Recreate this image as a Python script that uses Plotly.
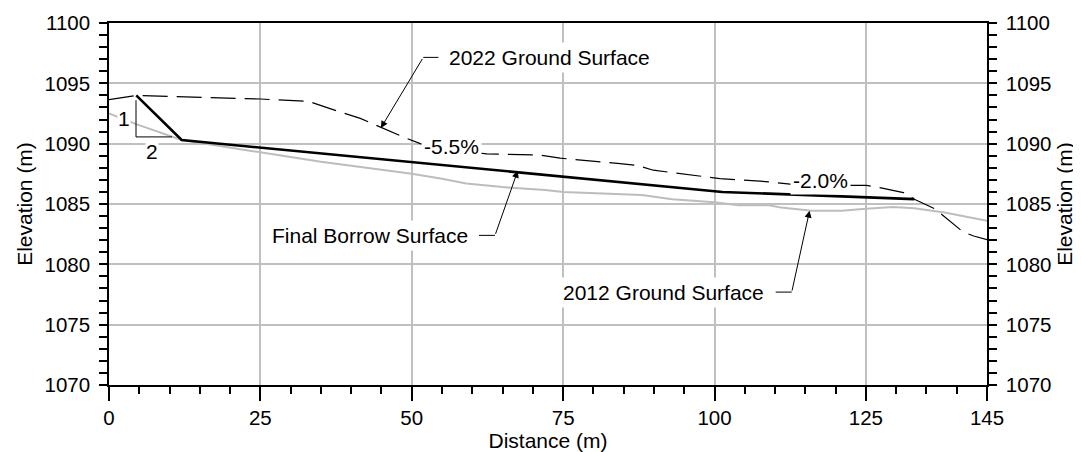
import plotly.graph_objects as go

# profile data (distance m, elevation m)
borrow_x = [4.5, 12.0, 101.3, 133.0]
borrow_y = [1094.0, 1090.3, 1086.0, 1085.4]

g2012_x = [0, 4.6, 12.0, 25, 35, 50, 55, 59, 65, 72, 75, 88, 93, 100, 104, 109,
           111, 116, 121, 125, 129.5, 133, 138, 145]
g2012_y = [1092.5, 1091.6, 1090.3, 1089.3, 1088.5, 1087.5, 1087.1, 1086.7, 1086.4,
           1086.15, 1086.0, 1085.75, 1085.4, 1085.15, 1084.9, 1084.9, 1084.7, 1084.45,
           1084.45, 1084.6, 1084.75, 1084.65, 1084.3, 1083.6]

g2022_x = [0, 4.5, 25, 33, 36.5, 41.5, 48.6, 51.4, 56, 62.4, 71.2, 74.5, 84.4, 87.2,
           89.9, 100.9, 107.5, 112.5, 122.7, 125.1, 127.3, 131.2, 133.0, 136.4, 141.0,
           142.8, 145]
g2022_y = [1093.65, 1094.0, 1093.7, 1093.5, 1092.9, 1092.1, 1090.55, 1090.0, 1089.5,
           1089.15, 1089.05, 1088.8, 1088.35, 1088.2, 1087.8, 1087.1, 1086.9, 1086.65,
           1086.55, 1086.55, 1086.35, 1085.95, 1085.4, 1084.6, 1082.7, 1082.35, 1082.05]

x_ticks = [0, 25, 50, 75, 100, 125, 145]

FONT = "Liberation Sans, Arial, sans-serif"
GRID = "#c0c0c0"
FS = 20.5

fig = go.Figure()
fig.add_trace(go.Scatter(x=g2012_x, y=g2012_y, mode="lines",
                         line=dict(color="#bdbdbd", width=2)))
fig.add_trace(go.Scatter(x=g2022_x, y=g2022_y, mode="lines",
                         line=dict(color="black", width=1.2, dash="25px,9px")))
fig.add_trace(go.Scatter(x=borrow_x, y=borrow_y, mode="lines",
                         line=dict(color="black", width=2.6)))
# dummy trace so the right axis is drawn
fig.add_trace(go.Scatter(x=[None], y=[None], yaxis="y2"))

# labels with leader lines: (text, text x, text y, anchor, leader start x, knee x, tip x, tip y)
leaders = [
    ("2022 Ground Surface", 55.5, 1097.15, "left", 54.4, 51.9, 44.9, 1091.3),
    ("Final Borrow Surface", 59.9, 1082.4, "right", 61.1, 63.75, 67.5, 1087.75),
    ("2012 Ground Surface", 108.9, 1077.7, "right", 110.1, 112.75, 115.7, 1084.45),
]
for txt, tx, ty, anc, sx, kx, px, py in leaders:
    fig.add_annotation(x=tx, y=ty, text=txt, showarrow=False, xanchor=anc,
                       bgcolor="white", borderpad=3, font=dict(size=21))
    fig.add_shape(type="line", x0=sx, y0=ty, x1=kx, y1=ty,
                  line=dict(color="black", width=1), layer="above")
    fig.add_annotation(x=px, y=py, ax=kx, ay=ty, axref="x", ayref="y", text="",
                       showarrow=True, arrowhead=2, arrowsize=1.4, arrowwidth=1,
                       arrowcolor="black")

# grade labels
for txt, tx, ty in [("-5.5%", 56.6, 1089.73), ("-2.0%", 117.5, 1086.98)]:
    fig.add_annotation(x=tx, y=ty, text=txt, showarrow=False, bgcolor="white",
                       borderpad=2, font=dict(size=21))

# 2H:1V slope marker
fig.add_shape(type="line", x0=4.46, y0=1093.6, x1=4.46, y1=1090.56,
              line=dict(color="black", width=1), layer="above")
fig.add_shape(type="line", x0=4.46, y0=1090.56, x1=10.4, y1=1090.56,
              line=dict(color="black", width=1), layer="above")
fig.add_annotation(x=2.4, y=1092.1, text="1", showarrow=False, bgcolor="white",
                   borderpad=0, font=dict(size=21))
fig.add_annotation(x=7.05, y=1089.35, text="2", showarrow=False, bgcolor="white",
                   borderpad=0, font=dict(size=21))

yax = dict(range=[1070, 1100], dtick=5, tick0=1070, ticks="outside", ticklen=8,
           tickwidth=1.5, tickcolor="black", showline=True, linecolor="black",
           linewidth=1.5, zeroline=False, automargin=False,
           tickfont=dict(size=FS), ticklabelstandoff=5,
           minor=dict(dtick=1, ticks="outside", ticklen=8, tickwidth=1.5,
                      tickcolor="black", showgrid=False))

# the page adds an 8 px body margin, so the figure is 8 px smaller each way
fig.update_layout(
    width=1073, height=444,
    margin=dict(l=101, r=94, t=15, b=67),
    paper_bgcolor="white", plot_bgcolor="white",
    font=dict(family=FONT, size=20, color="black"),
    showlegend=False,
    xaxis=dict(range=[0, 145], tickvals=x_ticks, ticks="outside", ticklen=14,
               tickwidth=1.5, tickcolor="black", showline=True, mirror=True,
               linecolor="black", linewidth=1.5, showgrid=True, gridcolor=GRID,
               gridwidth=1.5, zeroline=False, automargin=False,
               tickfont=dict(size=FS),
               title=dict(text="Distance (m)", standoff=0, font=dict(size=21)),
               minor=dict(dtick=5, tick0=0, ticks="outside", ticklen=7, tickwidth=1.5,
                          tickcolor="black", showgrid=False)),
    yaxis=dict(**yax, showgrid=True, gridcolor=GRID, gridwidth=1.5,
               title=dict(text="Elevation (m)", standoff=6, font=dict(size=21))),
    yaxis2=dict(**yax, overlaying="y", side="right", anchor="x", showgrid=False,
                title=dict(text="Elevation (m)", standoff=7, font=dict(size=21))),
)

fig.write_html("out.html")
